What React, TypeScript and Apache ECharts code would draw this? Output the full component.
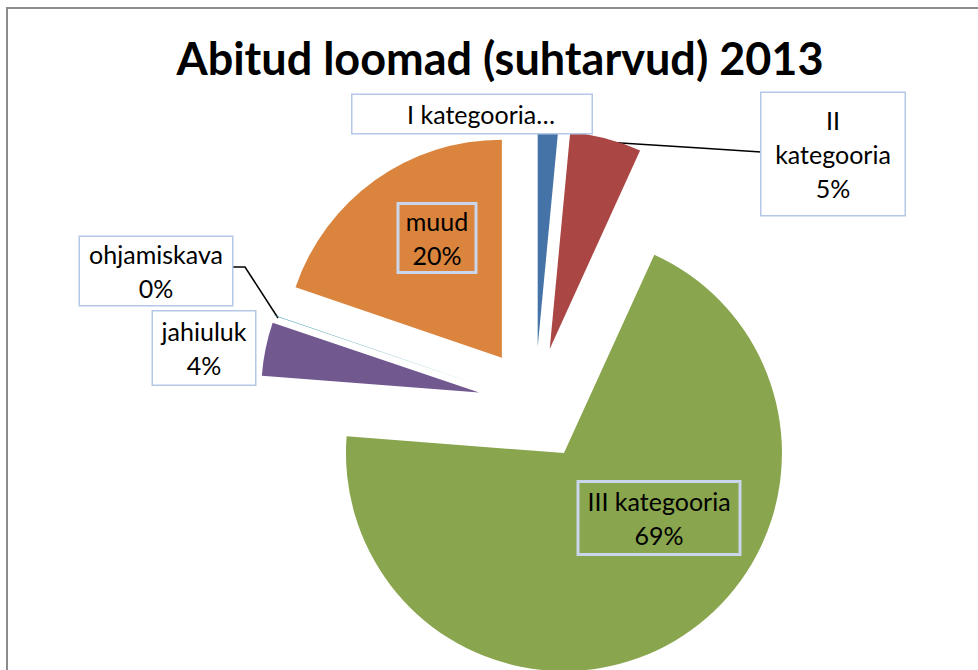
import React, { useEffect, useRef } from "react";
import * as echarts from "echarts";

const categories = ["I kategooria", "II kategooria", "III kategooria", "jahiuluk", "ohjamiskava", "muud"];
const values = [1.5, 5.3, 69.4, 3.95, 0.05, 19.75];
const colors = ["#4572a7", "#aa4643", "#89a54e", "#71588f", "#4198af", "#db843d"];
const labelTexts = ["I kategooria…", "II\nkategooria\n{p}%", "III kategooria\n{p}%", "jahiuluk\n{p}%", "ohjamiskava\n{p}%", "muud\n{p}%"];

// label box layout: center x, center y, width, height, inside, left padding shift
const labelBoxes = [
  { cx: 472, cy: 114, w: 239, h: 38, inside: false, shift: 18 },
  { cx: 833, cy: 154, w: 143, h: 122, inside: false, shift: 0 },
  { cx: 659, cy: 518, w: 162, h: 73, inside: true, shift: 0 },
  { cx: 204, cy: 348, w: 102, h: 73, inside: false, shift: 0 },
  { cx: 156, cy: 271, w: 152, h: 68, inside: false, shift: 0 },
  { cx: 437, cy: 238, w: 78, h: 69, inside: true, shift: 0 },
];
const leaderLines: (number[][] | null)[] = [
  [[548, 137], [548, 133], [524, 133]],
  [[605, 142], [700, 148], [761, 152]],
  null,
  null,
  [[278, 318], [245, 267], [233, 267]],
  null,
];

const CX = 535;
const CY = 404;
const R = 218;
const EXPLODE = 57;

export default function App() {
  const ref = useRef<HTMLDivElement>(null);
  useEffect(() => {
    document.body.style.margin = "0";
    const chart = echarts.init(ref.current!, undefined, { renderer: "svg" });
    const total = values.reduce((a, b) => a + b, 0);
    let cum = 0;
    const series = categories.map((_, k) => {
      const mid = ((cum + values[k] / 2) / total) * Math.PI * 2;
      cum += values[k];
      const center = [CX + EXPLODE * Math.sin(mid), CY - EXPLODE * Math.cos(mid)];
      const b = labelBoxes[k];
      const lines = labelTexts[k].split("\n").length;
      const lh = 34;
      const padV = Math.max(0, (b.h - lines * lh) / 2);
      const data = categories.map((name, i) => {
        const visible = i === k;
        return {
          name,
          value: values[i],
          itemStyle: { color: visible ? colors[i] : "rgba(0,0,0,0)" },
          label: visible
            ? {
                show: true,
                formatter: labelTexts[i].replace("{p}", String(Math.round((values[i] / total) * 100))),
                width: b.w - b.shift,
                padding: [padV, 0, padV, b.shift],
                backgroundColor: b.inside ? "transparent" : "#ffffff",
                borderColor: b.inside ? "#c9d6ec" : "#b4c7e7",
              }
            : { show: false },
          labelLine: visible
            ? {
                show: leaderLines[i] !== null,
                lineStyle: { color: i === 0 ? "#7f7f7f" : "#000000", width: 1.5 },
              }
            : { show: false },
        };
      });
      return {
        type: "pie",
        center,
        radius: [0, R],
        startAngle: 90,
        clockwise: true,
        avoidLabelOverlap: false,
        minShowLabelAngle: 0,
        silent: true,
        label: {
          position: "outside",
          fontFamily: "Lato",
          fontSize: 25,
          lineHeight: 34,
          color: "#000",
          align: "center",
          borderColor: "#b4c7e7",
          borderWidth: 1.5,
        },
        labelLine: { length: 10, length2: 10 },
        labelLayout: (params: any) => {
          if (params.dataIndex !== k) return {};
          const res: any = { x: b.cx, y: b.cy, align: "center", verticalAlign: "middle" };
          if (leaderLines[k]) res.labelLinePoints = leaderLines[k];
          return res;
        },
        data,
      };
    });
    chart.setOption({
      animation: false,
      title: {
        text: "Abitud loomad (suhtarvud) 2013",
        left: 495,
        top: 30,
        textAlign: "center",
        textStyle: { fontFamily: "Lato", fontWeight: "bold", fontSize: 45, color: "#000" },
      },
      graphic: [
        {
          type: "rect",
          shape: { x: 7, y: 8, width: 1000, height: 700 },
          style: { fill: "none", stroke: "#8c8c8c", lineWidth: 2 },
          silent: true,
        },
      ],
      series,
    });
    return () => chart.dispose();
  }, []);
  return <div ref={ref} style={{ width: 978, height: 670 }} />;
}
